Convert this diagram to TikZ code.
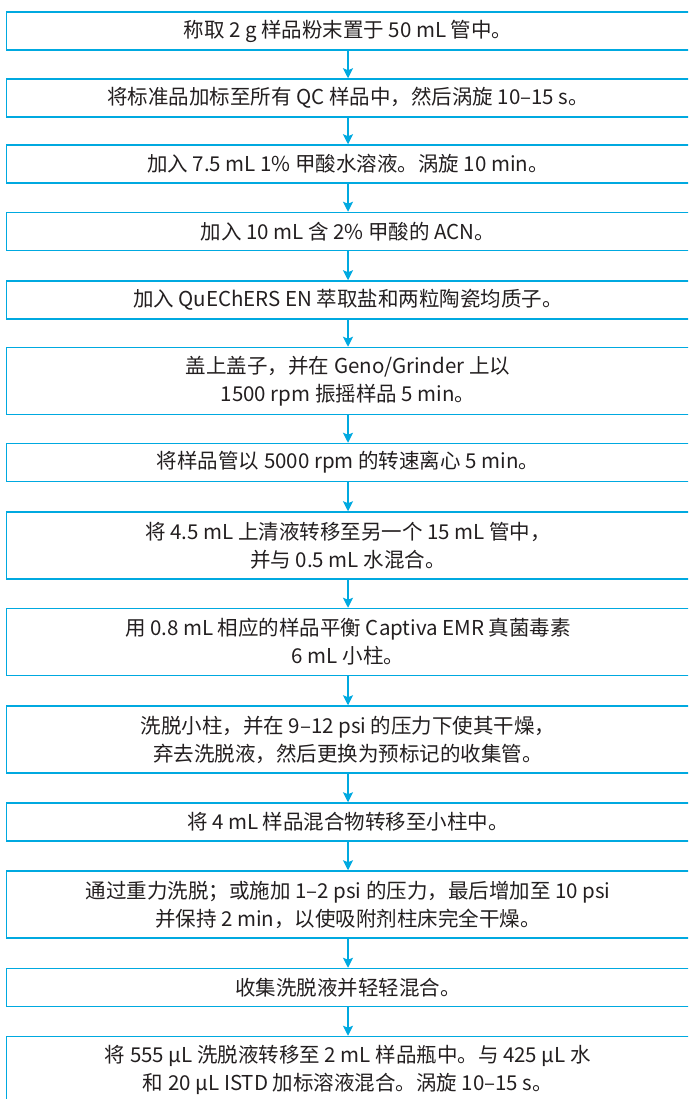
\documentclass[tikz,border=0pt]{standalone}
\usepackage{fontspec}
\setmainfont{Noto Sans CJK SC}
\usetikzlibrary{arrows.meta}
\definecolor{flowblue}{RGB}{0,169,224}
\definecolor{txt}{RGB}{35,31,32}
\begin{document}
\begin{tikzpicture}[x=1pt,y=-1pt,
  stepbox/.style={draw=flowblue, line width=1.5pt, minimum width=683pt, inner sep=0pt, align=center, font=\fontsize{20.5}{28}\selectfont, text=txt},
  one/.style={stepbox, minimum height=38pt},
  two/.style={stepbox, minimum height=67pt},
  flow/.style={draw=flowblue, line width=1.3pt, -{Stealth[length=10pt,width=10pt,inset=2pt]}}]
\useasboundingbox (0,0) rectangle (688,1099);
\clip (0,0) rectangle (688,1099);
\node[one] (s1) at (348,31) {称取 2 g 样品粉末置于 50 mL 管中。};
\node[one] (s2) at (348,98) {将标准品加标至所有 QC 样品中，然后涡旋 10–15 s。};
\node[one] (s3) at (348,164) {加入 7.5 mL 1\% 甲酸水溶液。涡旋 10 min。};
\node[one] (s4) at (348,231.5) {加入 10 mL 含 2\% 甲酸的 ACN。};
\node[one] (s5) at (348,300) {加入 QuEChERS EN 萃取盐和两粒陶瓷均质子。};
\node[two] (s6) at (348,381) {盖上盖子，并在 Geno/Grinder 上以\\1500 rpm 振摇样品 5 min。};
\node[one] (s7) at (348,462.5) {将样品管以 5000 rpm 的转速离心 5 min。};
\node[two] (s8) at (348,545.5) {将 4.5 mL 上清液转移至另一个 15 mL 管中，\\并与 0.5 mL 水混合。};
\node[two] (s9) at (348,642) {用 0.8 mL 相应的样品平衡 Captiva EMR 真菌毒素\\6 mL 小柱。};
\node[two] (s10) at (348,739.5) {洗脱小柱，并在 9–12 psi 的压力下使其干燥，\\弃去洗脱液，然后更换为预标记的收集管。};
\node[one] (s11) at (348,822) {将 4 mL 样品混合物转移至小柱中。};
\node[two] (s12) at (348,904.5) {通过重力洗脱；或施加 1–2 psi 的压力，最后增加至 10 psi\\并保持 2 min，以使吸附剂柱床完全干燥。};
\node[one] (s13) at (348,987.5) {收集洗脱液并轻轻混合。};
\node[two] (s14) at (348,1070) {将 555 µL 洗脱液转移至 2 mL 样品瓶中。与 425 µL 水\\和 20 µL ISTD 加标溶液混合。涡旋 10–15 s。};
\foreach \a/\b in {s1/s2,s2/s3,s3/s4,s4/s5,s5/s6,s6/s7,s7/s8,s8/s9,s9/s10,s10/s11,s11/s12,s12/s13,s13/s14}
  \draw[flow] (\a) -- (\b);
\end{tikzpicture}
\end{document}
